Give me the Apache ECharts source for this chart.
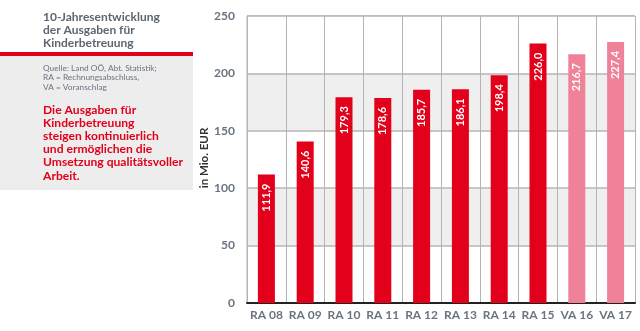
<!DOCTYPE html>
<html>
<head>
<meta charset="utf-8">
<script src="https://cdn.jsdelivr.net/npm/echarts@6/dist/echarts.min.js"></script>
<style>
  html, body { margin: 0; padding: 0; background: #fff; }
  #chart { width: 640px; height: 331px; }
</style>
</head>
<body>
<div id="chart"></div>
<script>
  // Jahre (RA = Rechnungsabschluss, VA = Voranschlag)
  var categories = ['RA 08', 'RA 09', 'RA 10', 'RA 11', 'RA 12', 'RA 13', 'RA 14', 'RA 15', 'VA 16', 'VA 17'];
  var ausgaben = [111.9, 140.6, 179.3, 178.6, 185.7, 186.1, 198.4, 226.0, 216.7, 227.4];
  var yTicks = [0, 50, 100, 150, 200, 250];

  var titleLines = ['10-Jahresentwicklung', 'der Ausgaben für', 'Kinderbetreuung'];
  var sourceLines = ['Quelle: Land OÖ, Abt. Statistik;', 'RA = Rechnungsabschluss,', 'VA = Voranschlag'];
  var noteLines = ['Die Ausgaben für', 'Kinderbetreuung', 'steigen kontinuierlich', 'und ermöglichen die', 'Umsetzung qualitätsvoller', 'Arbeit.'];
  var einheit = 'in Mio. EUR';

  var rot = '#e2001a';
  var rosa = '#ef8299';
  var grau = '#6a7480';

  var chart = echarts.init(document.getElementById('chart'));

  var option = {
    animation: false,
    textStyle: { fontFamily: 'Lato, "Open Sans", sans-serif' },
    graphic: [
      { type: 'rect', shape: { x: 0, y: 56, width: 193, height: 134 }, style: { fill: '#ededed' } },
      { type: 'rect', shape: { x: 0, y: 52, width: 193, height: 4 }, style: { fill: rot } },
      {
        type: 'text', left: 43, top: 10,
        style: { text: titleLines.join('\n'), fill: '#5c6670', fontFamily: 'Lato', fontWeight: 'bold', fontSize: 12, lineHeight: 13.3 }
      },
      {
        type: 'text', left: 43, top: 63,
        style: { text: sourceLines.join('\n'), fill: '#6a7480', fontFamily: 'Lato', fontSize: 8.3, lineHeight: 9.7 }
      },
      {
        type: 'text', left: 43, top: 103,
        style: { text: noteLines.join('\n'), fill: rot, fontFamily: 'Lato', fontWeight: 'bold', fontSize: 12.1, lineHeight: 13.2 }
      },
      {
        // Achsentitel
        type: 'text', x: 204, y: 158, rotation: Math.PI / 2,
        style: { text: einheit, fill: '#333', fontFamily: 'Lato', fontWeight: 'bold', fontSize: 11.5, align: 'center', verticalAlign: 'middle' }
      }
    ],
    grid: { left: 247, right: 5, top: 16, bottom: 28, show: true, borderColor: '#b4b4b4', borderWidth: 1 },
    xAxis: {
      type: 'category',
      data: categories,
      axisLine: { lineStyle: { color: '#222', width: 2 } },
      axisTick: { show: false },
      axisLabel: { interval: 0, color: grau, fontWeight: 'bold', fontSize: 12, margin: 6 },
      splitLine: { show: true, interval: 0, lineStyle: { color: '#b4b4b4', width: 1 } }
    },
    yAxis: {
      type: 'value',
      min: yTicks[0],
      max: yTicks[yTicks.length - 1],
      interval: 50,
      axisLine: { show: true, lineStyle: { color: '#b4b4b4' } },
      axisTick: { show: false },
      axisLabel: { color: grau, fontWeight: 'bold', fontSize: 12, margin: 12 },
      splitLine: { lineStyle: { color: '#b4b4b4', width: 1.5 } },
      splitArea: { show: true, areaStyle: { color: ['#ffffff', '#efefef'] } }
    },
    series: [{
      type: 'bar',
      data: ausgaben,
      barWidth: 17,
      itemStyle: {
        color: function (p) { return categories[p.dataIndex].indexOf('VA') === 0 ? rosa : rot; }
      },
      label: {
        show: true,
        position: 'insideTop',
        rotate: 90,
        align: 'right',
        verticalAlign: 'middle',
        distance: 9,
        color: '#fff',
        fontSize: 11,
        fontWeight: 'bold',
        formatter: function (p) { return p.value.toFixed(1).replace('.', ','); }
      }
    }]
  };

  chart.setOption(option);
</script>
</body>
</html>
